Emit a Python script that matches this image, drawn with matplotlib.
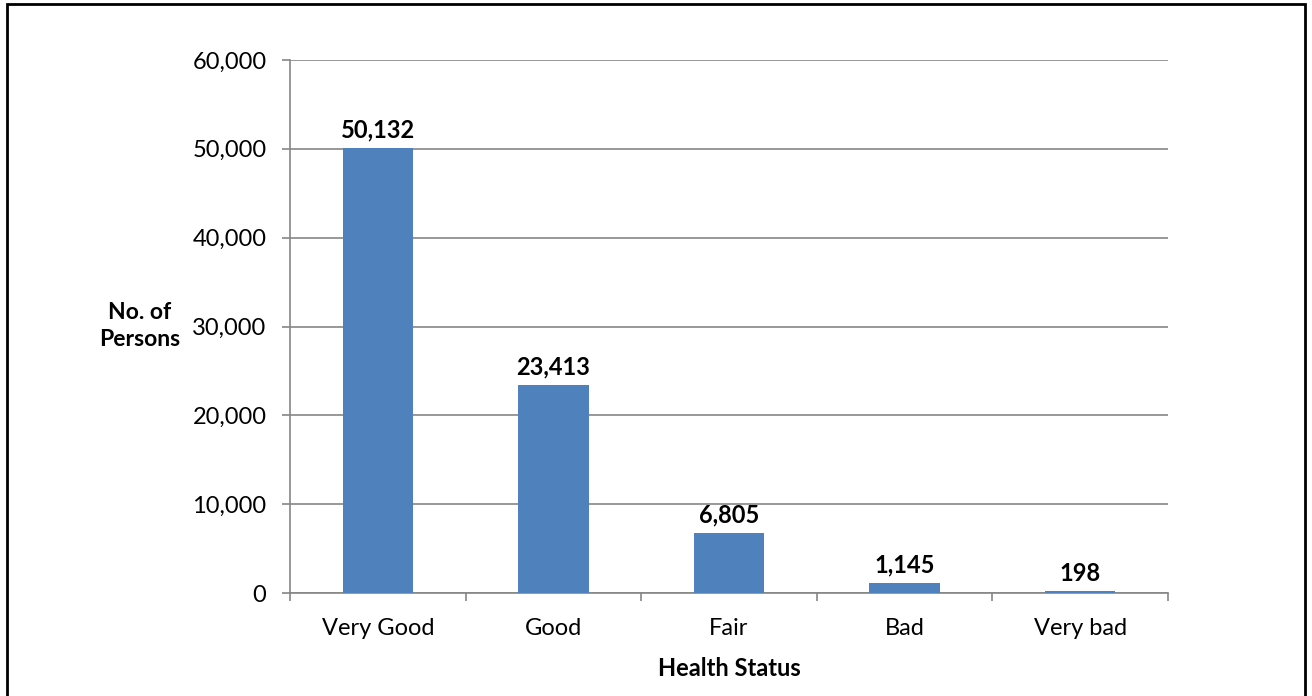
import matplotlib.pyplot as plt
from matplotlib.patches import Rectangle
from matplotlib.ticker import FuncFormatter

categories = ['Very Good', 'Good', 'Fair', 'Bad', 'Very bad']
persons = [50132, 23413, 6805, 1145, 198]

plt.rcParams['font.family'] = ['Lato', 'DejaVu Sans']

fig = plt.figure(figsize=(13.12, 6.96), dpi=100)
ax = fig.add_axes([290 / 1312, 1 - 593 / 696, 878 / 1312, 533 / 696])

x = range(len(categories))
ax.bar(x, persons, width=0.4, color='#4F81BD', zorder=3)
for i, v in zip(x, persons):
    ax.text(i, v + 700, f'{v:,}', ha='center', va='bottom',
            fontsize=17, fontweight='bold')

ax.set_xlim(-0.5, len(categories) - 0.5)
ax.set_ylim(0, 60000)
ax.set_yticks(range(0, 60001, 10000))
ax.yaxis.set_major_formatter(FuncFormatter(lambda v, p: f'{int(v):,}'))
ax.set_xticks(list(x))
ax.set_xticklabels(categories)
ax.set_xticks([i - 0.5 for i in range(len(categories) + 1)], minor=True)
ax.tick_params(axis='x', which='major', length=0, pad=18, labelsize=17)
ax.tick_params(axis='x', which='minor', length=6, color='#868686', width=1.2)
ax.tick_params(axis='y', length=6, color='#868686', width=1.2, pad=11, labelsize=17)

ax.grid(axis='y', color='#868686', linewidth=1.2, zorder=0)
for s in ['top', 'right']:
    ax.spines[s].set_visible(False)
for s in ['left', 'bottom']:
    ax.spines[s].set_color('#868686')
    ax.spines[s].set_linewidth(1.2)

ax.set_xlabel('Health Status', fontsize=17, fontweight='bold', labelpad=13)
fig.text(140 / 1312, 1 - 326 / 696, 'No. of\nPersons', ha='center', va='center',
         fontsize=16.5, fontweight='bold', linespacing=1.4)

fig.add_artist(Rectangle((7 / 1312, -0.01), 1298 / 1312, 1 - 4 / 696 + 0.01,
                         transform=fig.transFigure, fill=False,
                         edgecolor='black', linewidth=2))

fig.savefig('out.png', dpi=100)
